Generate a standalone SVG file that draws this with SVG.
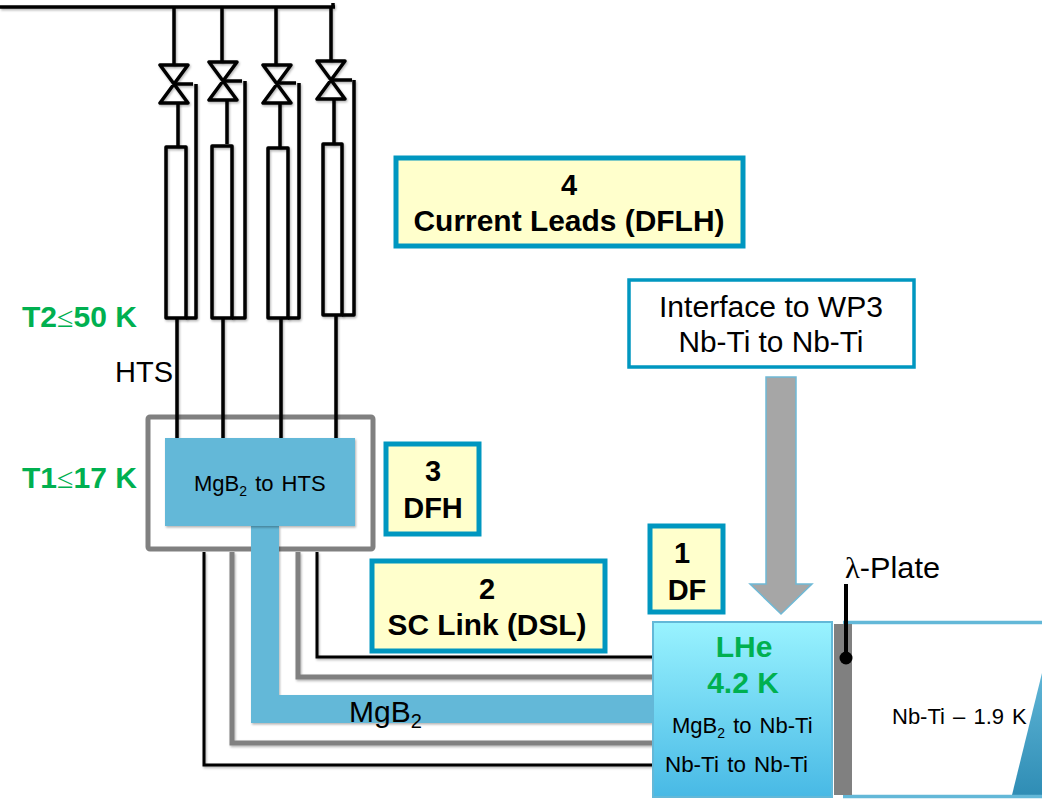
<svg xmlns="http://www.w3.org/2000/svg" width="1042" height="799" viewBox="0 0 1042 799">
<defs>
<linearGradient id="lhe" x1="0" y1="0" x2="0" y2="1"><stop offset="0" stop-color="#99f3ff"/><stop offset="1" stop-color="#48b9e5"/></linearGradient>
<linearGradient id="tri" x1="0" y1="0" x2="0" y2="1"><stop offset="0" stop-color="#5fb5d6"/><stop offset="1" stop-color="#2f8db5"/></linearGradient>
<filter id="sh" x="-10%" y="-10%" width="120%" height="120%"><feDropShadow dx="1" dy="1.5" stdDeviation="1.2" flood-color="#000" flood-opacity=".3"/></filter>
</defs>
<style>
text{font-family:"Liberation Sans",Arial,sans-serif;fill:#000}
.k{fill:none;stroke:#000;stroke-width:3.500;stroke-linejoin:round}
.k2{fill:none;stroke:#000;stroke-width:3}
.g{fill:none;stroke:#808080;stroke-width:5}
.y{fill:#ffffcc;stroke:#0097c0;stroke-width:5}
.t{font-size:29px;font-weight:bold;text-anchor:middle}
.s{font-size:22px;word-spacing:2px}
.gr{font-weight:bold;fill:#00b050}
.b{fill:#63b8d8}
.sym{font-family:"Liberation Serif",serif}
</style>
<g id="dfh-frame"><rect x="148" y="417" width="225" height="132" rx="2" fill="none" stroke="#808080" stroke-width="5"/></g>
<g id="connectors" filter="url(#sh)">
<path class="k" d="M0 7H335M333 3V7M174 7V65M222 7V62M276 7V65M331 7V61"/>
<path class="k" d="M178 103V147M227 100V144M280 103V148M334 99V144"/>
<path class="k" d="M177 318V438M223 318V438M281 318V438M336 315V439"/>
<path class="k" d="M174 84H193M196 84V318H186M223 81H242M245 81V318H232M277 83H296M299 83V318H288M331 80H352M354 80V315H342"/>
<path class="k2" d="M317 552V657H653M204 552V765H653"/>
<path class="g" d="M298 552V677H653M232 552V743H653"/>
<path class="b" d="M251 526H279V695H653V723H251Z"/>
</g>
<g id="valves" filter="url(#sh)">
<path class="k" d="M160 65H188L160 103H188ZM209 62H237L209 100H237ZM263 65H291L263 103H291ZM317 61H345L317 99H345Z"/>
</g>
<g id="leads" filter="url(#sh)">
<rect class="k" x="166" y="147" width="20" height="171"/>
<rect class="k" x="212" y="146" width="20" height="172"/>
<rect class="k" x="268" y="148" width="20" height="170"/>
<rect class="k" x="323" y="144" width="19" height="171"/>
</g>
<g id="dfh-box">
<rect class="b" x="165" y="438" width="190" height="88" filter="url(#sh)"/>
<text class="s" x="194" y="491">MgB<tspan font-size="14" dy="5">2</tspan><tspan dy="-5"> to HTS</tspan></text>
</g>
<g id="n4"><rect class="y" x="396" y="158" width="347" height="88"/><text class="t" x="569" y="195">4</text><text class="t" x="569" y="231" textLength="311" lengthAdjust="spacingAndGlyphs">Current Leads (DFLH)</text></g>
<g id="n3"><rect class="y" x="386" y="444" width="93" height="90"/><text class="t" x="433" y="481">3</text><text class="t" x="433" y="518">DFH</text></g>
<g id="n2"><rect class="y" x="372" y="561" width="233" height="90"/><text class="t" x="487" y="599">2</text><text class="t" x="487" y="635" textLength="199" lengthAdjust="spacingAndGlyphs">SC Link (DSL)</text></g>
<g id="n1"><rect class="y" x="650" y="526" width="73" height="86"/><text class="t" x="682" y="563">1</text><text class="t" x="687" y="600">DF</text></g>
<g id="iface"><rect x="629" y="280" width="285" height="87" fill="#fff" stroke="#0097c0" stroke-width="3.500"/>
<text x="771" y="317" font-size="29" text-anchor="middle" textLength="224" lengthAdjust="spacingAndGlyphs">Interface to WP3</text><text x="771" y="352" font-size="29" text-anchor="middle" textLength="185" lengthAdjust="spacingAndGlyphs">Nb-Ti to Nb-Ti</text></g>
<g id="arrow"><path d="M766 377H796V584H812L781 614L750 584H766Z" fill="#a6a6a6" stroke="#6fb9d6" stroke-width="1.500"/></g>
<g id="nbti">
<rect x="842" y="622" width="200" height="174" fill="#fff"/>
<path d="M1012 795L1042 673V795Z" fill="url(#tri)"/>
<path d="M843 622.500H1042M843 796.500H1042" stroke="#63b8d8" stroke-width="3.500" fill="none"/>
<text class="s" x="892" y="724" word-spacing="2.400">Nb-Ti – 1.9 K</text>
</g>
<g id="plate"><rect x="834" y="624" width="18" height="171" fill="#808080"/><path d="M846 584V658" stroke="#000" stroke-width="4"/><circle cx="846" cy="658" r="6.500" fill="#000"/></g>
<g id="lhe-box"><rect x="653" y="622" width="179" height="175" fill="url(#lhe)" stroke="#63b8d8" stroke-width="2"/>
<text x="744" y="657" font-size="30" text-anchor="middle" class="gr">LHe</text>
<text x="743" y="693" font-size="30" text-anchor="middle" class="gr">4.2 K</text>
<text class="s" x="672" y="733">MgB<tspan font-size="14" dy="5">2</tspan><tspan dy="-5"> to Nb-Ti</tspan></text>
<text class="s" x="665" y="772" textLength="143" lengthAdjust="spacingAndGlyphs">Nb-Ti to Nb-Ti</text></g>
<g id="labels">
<text x="22" y="327" font-size="29" class="gr" textLength="115" lengthAdjust="spacingAndGlyphs">T2<tspan class="sym" font-weight="normal">≤</tspan>50 K</text>
<text x="22" y="488" font-size="29" class="gr" textLength="115" lengthAdjust="spacingAndGlyphs">T1<tspan class="sym" font-weight="normal">≤</tspan>17 K</text>
<text x="115" y="382" font-size="29">HTS</text>
<text x="349" y="722" font-size="30">MgB<tspan font-size="20" dy="6">2</tspan></text>
<text x="845" y="578" font-size="29" textLength="95" lengthAdjust="spacingAndGlyphs"><tspan class="sym">λ</tspan>-Plate</text>
</g>
</svg>
